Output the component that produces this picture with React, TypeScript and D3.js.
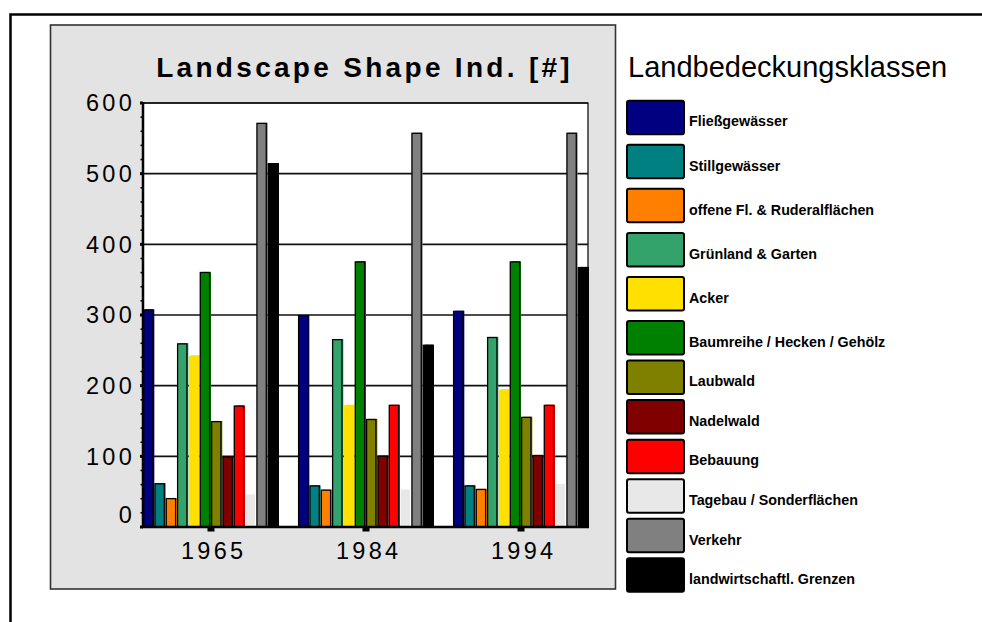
import React from "react";
import * as d3 from "d3";

const years = ["1965", "1984", "1994"];
const classes = [
  "Fließgewässer",
  "Stillgewässer",
  "offene Fl. & Ruderalflächen",
  "Grünland & Garten",
  "Acker",
  "Baumreihe / Hecken / Gehölz",
  "Laubwald",
  "Nadelwald",
  "Bebauung",
  "Tagebau / Sonderflächen",
  "Verkehr",
  "landwirtschaftl. Grenzen",
];
const values1965 = [308, 62, 41, 260, 243, 361, 150, 100, 172, 47, 572, 515];
const values1984 = [300, 59, 53, 266, 173, 376, 153, 101, 173, 54, 558, 258];
const values1994 = [306, 59, 54, 269, 195, 376, 156, 102, 173, 62, 558, 368];
const yTicks = [0, 100, 200, 300, 400, 500, 600];

const palette = [
  "#000080",
  "#008080",
  "#ff8000",
  "#33a36b",
  "#ffe000",
  "#008000",
  "#808000",
  "#800000",
  "#ff0000",
  "#e8e8e8",
  "#808080",
  "#000000",
];
const outlined = [true, true, true, true, false, true, true, true, true, false, true, true];

const seriesByYear = [values1965, values1984, values1994];

export default function App() {
  const W = 982;
  const H = 622;
  const plot = { left: 143, top: 103, right: 588, bottom: 527 };

  const y = d3.scaleLinear().domain([0, 600]).range([plot.bottom, plot.top]);
  const x0 = d3
    .scaleBand<string>()
    .domain(years)
    .range([plot.left, plot.right + 1])
    .paddingInner(0.1226)
    .paddingOuter(0);
  const x1 = d3
    .scaleBand<string>()
    .domain(classes)
    .range([0, x0.bandwidth()])
    .padding(0);
  const minor = d3.range(0, 601, 20);
  const legendY = d3.scaleLinear().domain([0, 5, 11]).range([100.7, 321, 558.3]);

  const font = "'Liberation Sans', Arial, Helvetica, sans-serif";
  const shadow = 2;
  const bw = x1.bandwidth() - shadow;
  const tickFont = 23.5;
  const tickSpacing = 3.3;

  return (
    <svg
      width={W}
      height={H}
      style={{ position: "absolute", left: 0, top: 0, display: "block" }}
      fontFamily={font}
    >
      <rect x={0} y={0} width={W} height={H} fill="#ffffff" />
      {/* outer frame */}
      <rect x={10.5} y={14.5} width={1100} height={800} fill="none" stroke="#000" strokeWidth={2.5} />
      {/* gray panel */}
      <rect x={50.5} y={25} width={565} height={564} fill="#e3e3e3" stroke="#333" strokeWidth={1.6} />
      {/* title */}
      <text
        x={363 + 1.6}
        y={77}
        textAnchor="middle"
        fontSize={28}
        fontWeight="bold"
        letterSpacing={3.3}
        fill="#000"
      >
        Landscape Shape Ind. [#]
      </text>
      {/* plot area */}
      <rect
        x={plot.left}
        y={plot.top}
        width={plot.right - plot.left}
        height={plot.bottom - plot.top}
        fill="#fff"
        stroke="#000"
        strokeWidth={1.2}
      />
      {yTicks.slice(1).map((t) => (
        <line
          key={"g" + t}
          x1={plot.left}
          x2={plot.right}
          y1={y(t)}
          y2={y(t)}
          stroke="#111"
          strokeWidth={1.6}
        />
      ))}
      {/* bars */}
      {years.map((yr, gi) => (
        <g key={yr} transform={`translate(${x0(yr)},0)`}>
          {classes.map((c, i) => {
            const v = seriesByYear[gi][i];
            const bx = x1(c) as number;
            const top = y(v);
            return (
              <g key={c}>
                <rect
                  x={bx + shadow}
                  y={top}
                  width={bw}
                  height={plot.bottom - top}
                  fill={i === 9 ? "#ffffff" : palette[i]}
                />
                <rect
                  x={bx + 0.6}
                  y={top + 0.6}
                  width={bw}
                  height={plot.bottom - top - 0.6}
                  fill={palette[i]}
                  stroke={outlined[i] ? "#000" : "none"}
                  strokeWidth={1.3}
                />
              </g>
            );
          })}
        </g>
      ))}
      {/* axes */}
      <line x1={plot.left} x2={plot.left} y1={plot.top - 1} y2={plot.bottom + 1} stroke="#000" strokeWidth={2.5} />
      <line x1={plot.left - 1} x2={plot.right + 1} y1={plot.bottom} y2={plot.bottom} stroke="#000" strokeWidth={2.5} />
      {minor.map((t) => (
        <line
          key={"m" + t}
          x1={plot.left - (t % 100 === 0 ? 3 : 2.5)}
          x2={plot.left}
          y1={y(t)}
          y2={y(t)}
          stroke="#000"
          strokeWidth={t % 100 === 0 ? 3 : 1.6}
        />
      ))}
      {yTicks.map((t) => (
        <text
          key={"yl" + t}
          x={131.7 + tickSpacing}
          y={y(t) - (t === 0 ? 12 : 0)}
          dy="0.36em"
          textAnchor="end"
          fontSize={tickFont}
          letterSpacing={tickSpacing}
          fill="#000"
        >
          {t}
        </text>
      ))}
      {years.map((yr) => {
        const cx = (x0(yr) as number) + x0.bandwidth() / 2;
        return (
          <g key={"xl" + yr}>
            <rect x={cx - 3.5} y={plot.bottom} width={7} height={4.5} fill="#000" />
            <text
              x={cx + tickSpacing / 2 + 1}
              y={550.5}
              dy="0.36em"
              textAnchor="middle"
              fontSize={tickFont}
              letterSpacing={tickSpacing}
              fill="#000"
            >
              {yr}
            </text>
          </g>
        );
      })}
      {/* legend */}
      <text x={628} y={77} fontSize={29} fill="#000">
        Landbedeckungsklassen
      </text>
      {classes.map((c, i) => {
        const ty = legendY(i);
        return (
          <g key={"lg" + c}>
            <rect
              x={627}
              y={ty}
              width={57}
              height={33.5}
              rx={2}
              fill={palette[i]}
              stroke="#000"
              strokeWidth={2}
            />
            <text
              x={689}
              y={ty + 16.75 + 4}
              dy="0.35em"
              fontSize={14.3}
              fontWeight="bold"
              fill="#000"
            >
              {c}
            </text>
          </g>
        );
      })}
    </svg>
  );
}
